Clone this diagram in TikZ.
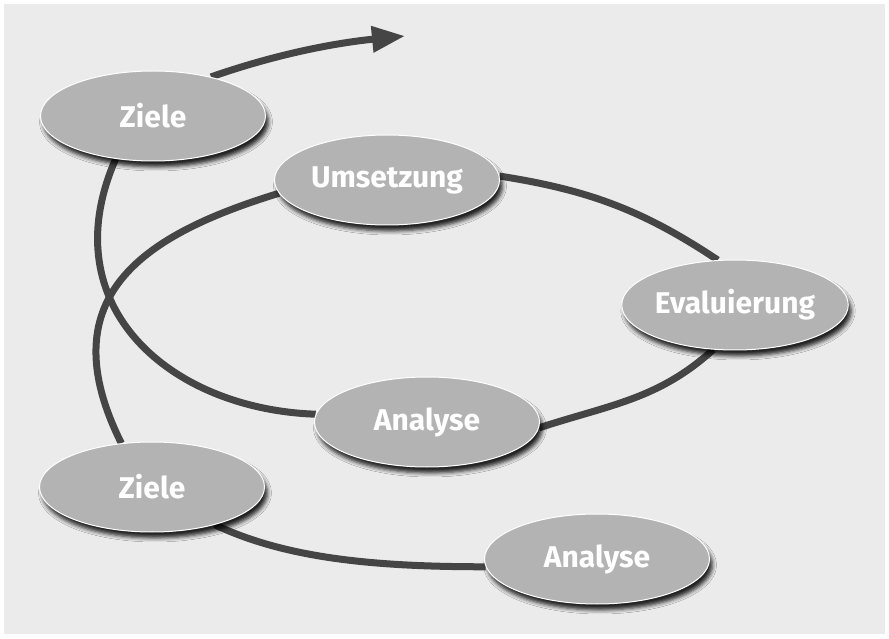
\documentclass[tikz,border=0pt]{standalone}
\usepackage{fontspec}
\setmainfont{Fira Sans}
\usepackage{tikz}
\usetikzlibrary{arrows.meta, shapes.geometric, shadows.blur}
\usepackage{xcolor}
\definecolor{bggray}{HTML}{EBEBEB}
\definecolor{ovalgray}{HTML}{B3B3B3}
\definecolor{linegray}{HTML}{454545}
\pgfdeclarelayer{background}
\pgfsetlayers{background,main}

\tikzset{
  oval/.style={ellipse, fill=ovalgray, draw=white, line width=1pt, minimum width=225pt, minimum height=90pt, inner sep=0pt, text=white, font=\bfseries\fontsize{30}{32}\selectfont, blur shadow={shadow xshift=3pt, shadow yshift=-6pt, shadow blur radius=4pt, shadow opacity=85}},
  bahn/.style={draw=linegray, line width=7pt}
}

\begin{document}
\begin{tikzpicture}[x=1pt, y=1pt]
        \useasboundingbox (0,0) rectangle (889,638);
        
        \node[oval] (z1) at (153, 522) {Ziele};
        \node[oval] (u) at (387, 458) {Umsetzung};
        \node[oval] (e) at (735, 333) {Evaluierung};
        \node[oval] (a1) at (427, 216) {Analyse};
        \node[oval] (z2) at (152, 151) {Ziele};
        \node[oval] (a2) at (597, 79) {Analyse};
        \coordinate (pfeil) at (405, 602);
        
        \begin{pgfonlayer}{background}
          \fill[white] (0,0) rectangle (889,638);
          \fill[bggray] (4,4) rectangle (885,634);
          \draw[bahn] (z2.329) .. controls +(72,-34) and +(-110,0) .. (a2.184);
          \draw[bahn] (z2.125) .. controls +(-75,150) and +(-130,-40) .. (u.187);
          \draw[bahn] (u.2) .. controls +(89,-14) and +(-75,50) .. (e.111);
          \draw[bahn] (e.244) .. controls +(-55,-50) and +(70,23) .. (a1.357);
          \draw[bahn] (a1.176) .. controls +(-145,5) and +(-65,-148) .. (z1.229);
          \draw[bahn, -{Triangle[length=33pt, width=25pt]}] (z1.34) .. controls +(66,23) and +(-70,-7) .. (pfeil);
        \end{pgfonlayer}
        
      \end{tikzpicture}
\end{document}
